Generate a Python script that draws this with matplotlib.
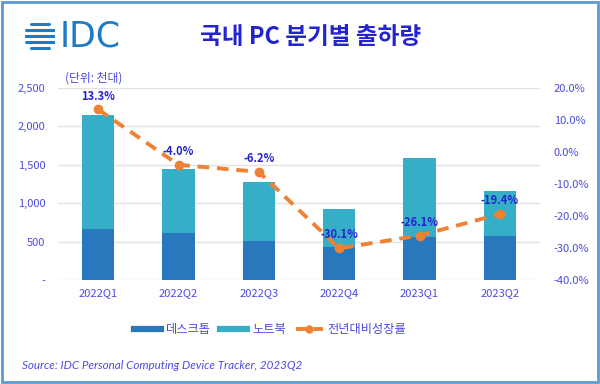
import numpy as np
import matplotlib.pyplot as plt
from matplotlib.lines import Line2D
from matplotlib.patches import Rectangle

plt.rcParams['font.family'] = ['Noto Sans CJK KR', 'DejaVu Sans']

quarters = ['2022Q1', '2022Q2', '2022Q3', '2022Q4', '2023Q1', '2023Q2']
desktop = [664, 612, 508, 430, 560, 573]
notebook_total = [2148, 1445, 1276, 924, 1589, 1159]
notebook = [t - d for t, d in zip(notebook_total, desktop)]
growth = [13.3, -4.0, -6.2, -30.1, -26.1, -19.4]

c_desk = '#2878BD'
c_note = '#37AEC7'
c_line = '#EE8133'
c_text = '#4B4BE0'
c_title = '#2323D0'

fig = plt.figure(figsize=(6, 3.84), dpi=100)
fig.patch.set_facecolor('white')
fig.add_artist(Rectangle((0.003, 0.004), 0.994, 0.992, transform=fig.transFigure,
                         fill=False, edgecolor='#5A9BD5', lw=2))

ax = fig.add_axes([0.0967, 0.2708, 0.8033, 0.5])
x = np.arange(len(quarters))
ax.bar(x, desktop, width=0.4, color=c_desk, zorder=2)
ax.bar(x, notebook, width=0.4, bottom=desktop, color=c_note, zorder=2)
ax.set_xlim(-0.5, 5.5)
ax.set_ylim(0, 2500)
ax.set_yticks([0, 500, 1000, 1500, 2000, 2500])
ax.set_yticklabels(['-', '500', '1,000', '1,500', '2,000', '2,500'])
ax.grid(axis='y', color='#E3E3E3', lw=1, zorder=0)
ax.set_axisbelow(True)
for s in ax.spines.values():
    s.set_visible(False)
ax.tick_params(length=0, labelsize=8, colors=c_text, pad=9)
ax.set_xticks(x)
ax.set_xticklabels(quarters)
ax.tick_params(axis='x', pad=6)

ax2 = ax.twinx()
ax2.plot(x, growth, color=c_line, lw=2.8, ls=(0, (3, 2)), marker='o', ms=6, zorder=3)
ax2.set_ylim(-40, 20)
ax2.set_yticks(np.arange(-40, 21, 10))
ax2.set_yticklabels(['%.1f%%' % v for v in np.arange(-40, 21, 10)])
for s in ax2.spines.values():
    s.set_visible(False)
ax2.tick_params(length=0, labelsize=8, colors=c_text, pad=10)
for xi, g in zip(x, growth):
    ax2.annotate('%.1f%%' % g, (xi, g), xytext=(0, 5), textcoords='offset points',
                 ha='center', va='bottom', fontsize=8, fontweight='bold', color=c_title)

# logo
fig.text(0.100, 0.905, 'IDC', fontsize=25, color='#1E7CC6', ha='left', va='center',
         family='DejaVu Sans')
lax = fig.add_axes([0.042, 0.86, 0.05, 0.09])
lax.set_xlim(-1, 1)
lax.set_ylim(-1, 1)
lax.set_aspect('equal')
lax.axis('off')
for yy in np.linspace(-0.8, 0.8, 5):
    hw = np.sqrt(max(1 - yy ** 2, 0))
    lax.plot([-hw, hw], [yy, yy], color='#1E7CC6', lw=2.2, solid_capstyle='round')

fig.text(0.517, 0.903, '국내 PC 분기별 출하량', fontsize=17, fontweight='bold',
         color=c_title, ha='center', va='center')
fig.text(0.108, 0.797, '(단위: 천대)', fontsize=8.5, color=c_text, ha='left', va='center')

handles = [Line2D([], [], color=c_desk, lw=4.5),
           Line2D([], [], color=c_note, lw=4.5),
           Line2D([], [], color=c_line, lw=2.8, ls=(0, (3, 1.5)), marker='o', ms=5)]
fig.legend(handles, ['데스크톱', '노트북', '전년대비성장률'], loc='center',
           bbox_to_anchor=(0.45, 0.142), ncol=3, frameon=False, fontsize=8.8,
           labelcolor=c_text, handlelength=2.2, columnspacing=0.8, handletextpad=0.4)

fig.text(0.037, 0.048, 'Source: IDC Personal Computing Device Tracker, 2023Q2', fontsize=8.4,
         style='italic', color=c_text, ha='left', va='center', family='Lato')

fig.savefig('out.png', dpi=100)
